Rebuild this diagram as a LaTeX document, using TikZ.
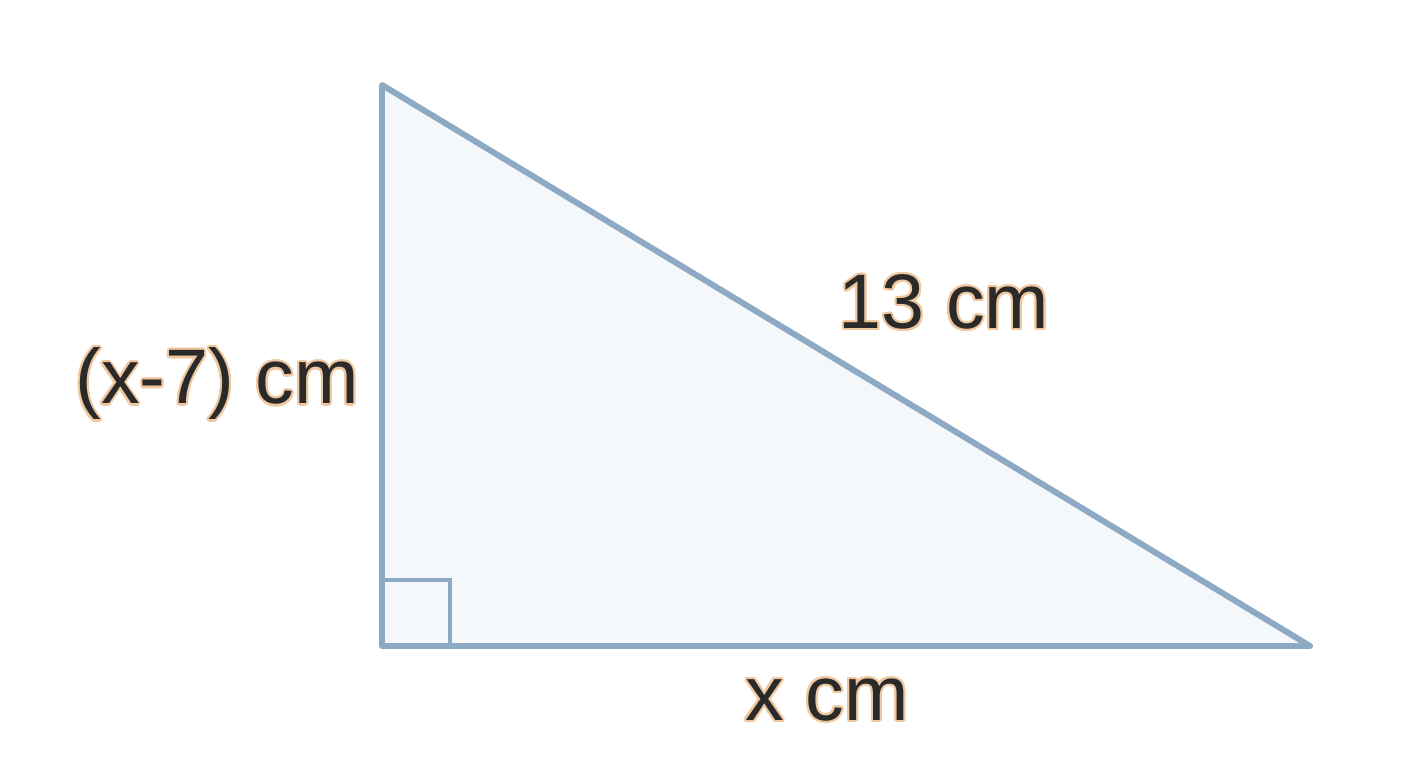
\documentclass[tikz,border=0pt]{standalone}
\usepackage{fontspec}
\setmainfont{Liberation Sans}
\usepackage{contour}
\usepackage{tikz}
\definecolor{edgeblue}{HTML}{8DA9C4}
\definecolor{fillblue}{HTML}{F4F8FB}
\definecolor{ink}{HTML}{2A2A2A}
\definecolor{halo}{HTML}{F0C8A0}
\contourlength{0.6pt}

\begin{document}
\begin{tikzpicture}
\useasboundingbox (0,0) rectangle (14.08,7.68);
\begin{scope}[every node/.style={font=\fontsize{22}{26}\selectfont,text=ink}]
    \coordinate (ul) at (3.82,6.83);
    \coordinate (ll) at (3.82,1.22);
    \coordinate (lr) at (13.10,1.22);

    \fill[fillblue] (ul) -- (ll) -- (lr) -- cycle;
    \draw[edgeblue, line width=1.4pt] (ll) rectangle ++(0.68,0.66);
    \draw[edgeblue, line width=1.7pt, line join=round, line cap=round] (ul) -- (ll) -- (lr) -- cycle;

    \node (side) at (2.17,3.83){\contour{halo}{(x-7) cm}};
    \node (hyp) at (9.44,4.65){\contour{halo}{13 cm}};
    \node (base) at (8.27,0.67){\contour{halo}{x cm}};
\end{scope}
\end{tikzpicture}
\end{document}
